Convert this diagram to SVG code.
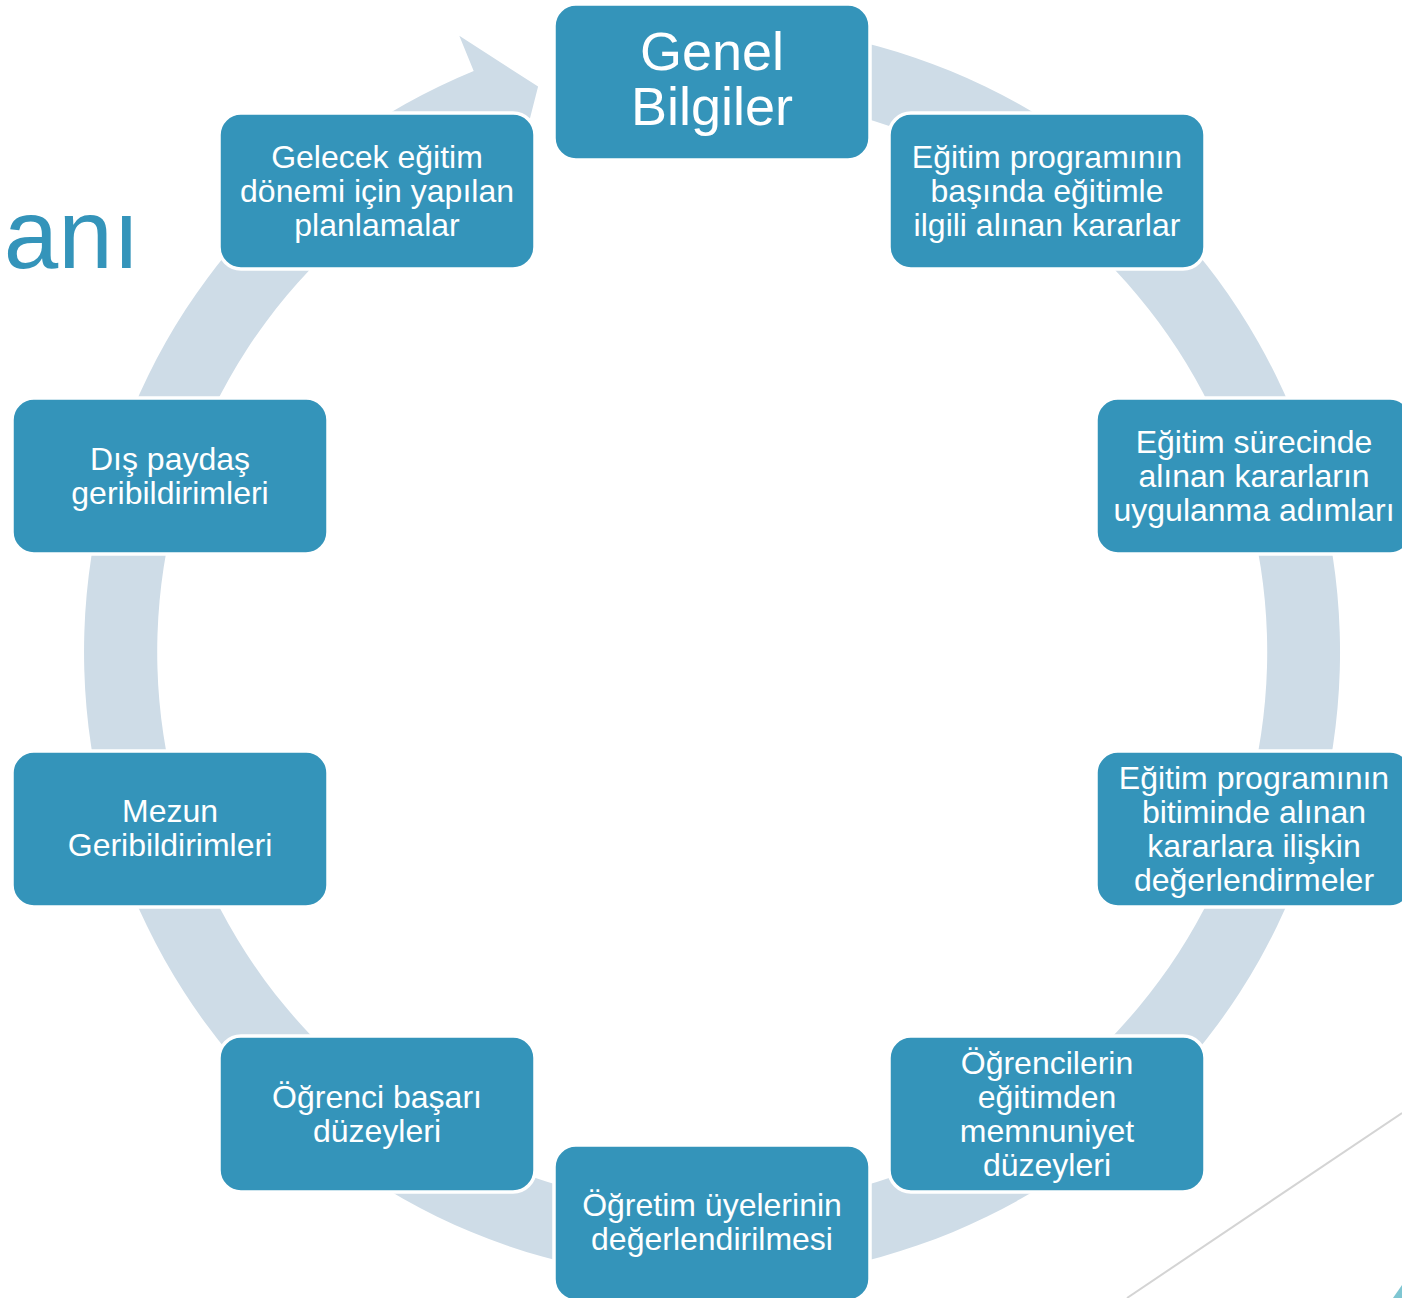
<svg xmlns="http://www.w3.org/2000/svg" width="1402" height="1298" viewBox="0 0 1402 1298">
<style>
.box{fill:#3494BA;stroke:#FFFFFF;stroke-width:3.5}
.t{font-family:"Liberation Sans",Arial,sans-serif;font-size:32px;fill:#FFFFFF;text-anchor:middle}
.big{font-size:54px}
</style>
<rect width="1402" height="1298" fill="#FFFFFF"/>
<text x="140" y="268" font-family="Liberation Sans, Arial, sans-serif" font-size="98" fill="#3494BA" text-anchor="end">anı</text>
<line x1="1127" y1="1298" x2="1402" y2="1113" stroke="#D4D4D4" stroke-width="2"/>
<polygon points="1402,1285 1402,1298 1393,1298" fill="#7FC6D2"/>
<g id="connectors">
<path d="M 766.7 26.4 A 628 628 0 1 1 473.7 71 L 459.3 35.8 L 538.1 86.6 L 515.8 173.7 L 501.4 138.5 A 555 555 0 1 0 760.4 99 Z" fill="#CEDCE7"/>
</g>
<g id="node1"><rect class="box" x="554" y="4" width="316" height="156" rx="22"/>
<text class="t big" x="712" y="70">Genel</text><text class="t big" x="712" y="125">Bilgiler</text></g>
<g id="node2"><rect class="box" x="889" y="113" width="316" height="156" rx="22"/>
<text class="t" x="1047" y="168">Eğitim programının</text><text class="t" x="1047" y="202">başında eğitimle</text><text class="t" x="1047" y="236">ilgili alınan kararlar</text></g>
<g id="node3"><rect class="box" x="1096" y="398" width="316" height="156" rx="22"/>
<text class="t" x="1254" y="453">Eğitim sürecinde</text><text class="t" x="1254" y="487">alınan kararların</text><text class="t" x="1254" y="521">uygulanma adımları</text></g>
<g id="node4"><rect class="box" x="1096" y="751" width="316" height="156" rx="22"/>
<text class="t" x="1254" y="789">Eğitim programının</text><text class="t" x="1254" y="823">bitiminde alınan</text><text class="t" x="1254" y="857">kararlara ilişkin</text><text class="t" x="1254" y="891">değerlendirmeler</text></g>
<g id="node5"><rect class="box" x="889" y="1036" width="316" height="156" rx="22"/>
<text class="t" x="1047" y="1074">Öğrencilerin</text><text class="t" x="1047" y="1108">eğitimden</text><text class="t" x="1047" y="1142">memnuniyet</text><text class="t" x="1047" y="1176">düzeyleri</text></g>
<g id="node6"><rect class="box" x="554" y="1145" width="316" height="156" rx="22"/>
<text class="t" x="712" y="1216">Öğretim üyelerinin</text><text class="t" x="712" y="1250">değerlendirilmesi</text></g>
<g id="node7"><rect class="box" x="219" y="1036" width="316" height="156" rx="22"/>
<text class="t" x="377" y="1108">Öğrenci başarı</text><text class="t" x="377" y="1142">düzeyleri</text></g>
<g id="node8"><rect class="box" x="12" y="751" width="316" height="156" rx="22"/>
<text class="t" x="170" y="822">Mezun</text><text class="t" x="170" y="856">Geribildirimleri</text></g>
<g id="node9"><rect class="box" x="12" y="398" width="316" height="156" rx="22"/>
<text class="t" x="170" y="470">Dış paydaş</text><text class="t" x="170" y="504">geribildirimleri</text></g>
<g id="node10"><rect class="box" x="219" y="113" width="316" height="156" rx="22"/>
<text class="t" x="377" y="168">Gelecek eğitim</text><text class="t" x="377" y="202">dönemi için yapılan</text><text class="t" x="377" y="236">planlamalar</text></g>
</svg>
